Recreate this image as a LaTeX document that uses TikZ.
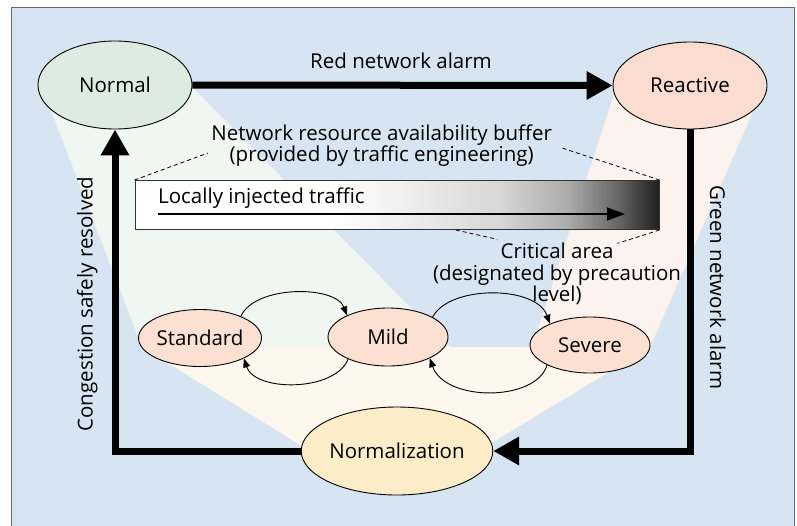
\documentclass[tikz,border=0pt]{standalone}
\usepackage{fontspec}
\setmainfont{Open Sans}
\usetikzlibrary{arrows.meta,calc,shapes.geometric}

\definecolor{bgblue}{RGB}{215,229,242}
\definecolor{framegray}{RGB}{105,105,105}
\definecolor{beamgreen}{RGB}{240,246,242}
\definecolor{beampink}{RGB}{252,242,238}
\definecolor{beamcream}{RGB}{254,247,237}
\definecolor{normalfill}{RGB}{221,235,227}
\definecolor{reactfill}{RGB}{250,220,208}
\definecolor{levelfill}{RGB}{252,225,210}
\definecolor{normzfill}{RGB}{253,236,200}

% white on the left, darkening faster towards the right end
\pgfdeclarehorizontalshading{bufshade}{100bp}{%
  color(0bp)=(white); color(25bp)=(white); color(43.6bp)=(white);
  color(50.3bp)=(black!6); color(59.9bp)=(black!16); color(66.3bp)=(black!33);
  color(71.1bp)=(black!60); color(75bp)=(black!88); color(100bp)=(black!88)}

\begin{document}
\begin{tikzpicture}[x=1pt,y=-1pt,
  every node/.style={font=\fontsize{20.5}{21.7}\selectfont, text=black},
  txt/.style={anchor=base, inner sep=0pt},
  state/.style={ellipse, draw=black, line width=0.9pt, inner sep=0pt},
  bigarrow/.style={line width=7pt, line join=miter, -{Triangle[length=26pt,width=27pt]}},
  smallarrow/.style={line width=0.9pt, -{Triangle[length=9pt,width=7pt]}},
  leader/.style={line width=0.8pt, dash pattern=on 4pt off 3pt}]

\useasboundingbox (0,0) rectangle (797,525);

% panel
\fill[bgblue] (11,7) rectangle (794,530);
\draw[framegray, line width=1pt] (11,530) -- (11,7) -- (794,7) -- (794,530);

% light beams from the main states down to the precaution levels
\fill[beamgreen] (47,100) -- (180,75) -- (450,347) -- (142,347) -- cycle;
\fill[beampink] (617,85) -- (758,100) -- (650,347) -- (532,347) -- cycle;
\fill[beamcream] (142,347) -- (650,347) -- (470,456) -- (318,456) -- cycle;

% main states
\node[state, fill=normalfill, minimum width=154pt, minimum height=88pt] (normal) at (115,85) {Normal};
\node[state, fill=reactfill, minimum width=154pt, minimum height=87pt] (reactive) at (690,85.5) {Reactive};
\node[state, fill=normzfill, minimum width=168pt, minimum height=88pt] (normz) at (397,451) {Normalization};

% precaution levels
\node[state, fill=levelfill, minimum width=120pt, minimum height=57pt] (std) at (200,338) {Standard};
\node[state, fill=levelfill, minimum width=120pt, minimum height=58pt] (mild) at (388,337) {Mild};
\node[state, fill=levelfill, minimum width=120pt, minimum height=56pt] (severe) at (590,345) {Severe};

% main transitions
\draw[bigarrow] (normal.east) -- (reactive.west);
\draw[bigarrow] (reactive.south) |- (normz.east);
\draw[bigarrow] (normz.west) -| (normal.south);

\node[txt] (redlbl) at (401,68) {Red network alarm};
\node[txt, rotate=-90] (greenlbl) at (710,287.5) {Green network alarm};
\node[txt, rotate=90] (conglbl) at (92.5,304) {Congestion safely resolved};

% level transitions
\draw[smallarrow] (std.28) .. controls (255,285) and (335,285) .. (mild.152);
\draw[smallarrow] (mild.209) .. controls (335,392) and (255,392) .. (std.-25);
\draw[smallarrow] (mild.24) .. controls (449,285) and (536,285) .. (severe.152);
\draw[smallarrow] (severe.205) .. controls (536,402) and (445,402) .. (mild.-27);

% resource availability buffer
\node[draw=black!80, line width=1pt, shading=bufshade, minimum width=524pt, minimum height=49pt, inner sep=0pt] (buf) at (397,205) {};
\node[txt, anchor=base west] (inj) at (158,203) {Locally injected traffic};
\coordinate (injs) at (158,214);
\coordinate (inje) at (625,214);
\draw[line width=1.4pt, -{Triangle[length=18pt,width=13pt]}] (injs) -- (inje);

\node[txt] (buftxtA) at (381.7,140) {Network resource availability buffer};
\node[txt] (buftxtB) at (381.7,161.7) {(provided by traffic engineering)};
\coordinate (bufl) at (208,153);
\coordinate (bufr) at (562,148);
\draw[leader] (buf.north west) -- (bufl);
\draw[leader] (buf.north east) -- (bufr);

\node[txt] (critA) at (557,258) {Critical area};
\node[txt] (critB) at (557,280) {(designated by precaution};
\node[txt] (critC) at (557,301) {level)};
\coordinate (critbl) at ($(buf.south west)!0.612!(buf.south east)$);
\draw[leader] (critbl) -- ($(critA.west)+(-3,-11)$);
\draw[leader] (buf.south east) -- ($(critA.east)+(4,-7)$);
\end{tikzpicture}
\end{document}
